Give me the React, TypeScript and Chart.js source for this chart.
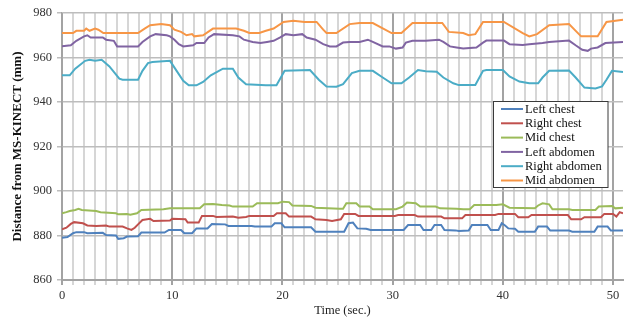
import React, { useEffect, useRef } from 'react';
import { Chart, registerables } from 'chart.js';

Chart.register(...registerables);

// [time (s), distance (mm)] breakpoints
const leftChest: [number, number][] = [
  [0, 879], [0.5, 879.3], [1.0, 881], [1.3, 881.5], [2.0, 881.5], [2.3, 881], [3.7, 881.2], [4.0, 880.2],
  [4.9, 880], [5.1, 878.5], [5.6, 878.8], [5.9, 879.5], [6.9, 879.7], [7.2, 881.3], [9.3, 881.3], [9.7, 882.5],
  [10.8, 882.5], [11.1, 881], [11.8, 881], [12.2, 883.2], [13.2, 883.2], [13.6, 885.2], [14.8, 885], [15.1, 884.3],
  [17.2, 884.3], [17.5, 884], [19.0, 884], [19.3, 885.5], [19.9, 885.5], [20.2, 883.7], [22.6, 883.7], [23.0, 881.7],
  [25.6, 881.7], [26.0, 885.5], [26.4, 885.8], [26.8, 883.2], [27.6, 883], [28.0, 882.5], [31.0, 882.5], [31.4, 884.7],
  [32.5, 884.7], [32.8, 882.5], [33.5, 882.5], [33.8, 884.7], [34.4, 884.7], [34.7, 882.5], [35.7, 882.3], [36.0, 882],
  [36.9, 882.2], [37.2, 884.7], [38.6, 884.7], [38.9, 882.5], [39.6, 882.5], [39.9, 885.5], [40.2, 884.5], [40.5, 883.2],
  [41.1, 883], [41.4, 881.7], [42.9, 881.7], [43.2, 884], [44.0, 884], [44.3, 882.2], [46.0, 882.2], [46.3, 881.7],
  [48.3, 881.7], [48.6, 884], [49.5, 884], [49.8, 882.2], [50.9, 882.2],
];

const rightChest: [number, number][] = [
  [0, 882.8], [0.4, 883.5], [0.8, 885.2], [1.1, 886], [1.9, 885.5], [2.3, 884.5], [3.1, 884.3], [4.0, 884.5],
  [4.3, 884], [5.5, 884], [5.9, 883.2], [6.3, 882.5], [6.6, 883.5], [6.9, 885], [7.3, 887], [8.0, 887.5],
  [8.3, 886.5], [9.8, 886.7], [10.0, 887.5], [11.2, 887.3], [11.4, 885.8], [12.4, 885.8], [12.7, 888.8], [13.7, 888.8],
  [14.0, 888.3], [15.5, 888.5], [16.0, 888], [16.7, 888.3], [17.0, 888.8], [19.2, 888.8], [19.5, 890], [20.3, 890],
  [20.6, 888.5], [22.6, 888.5], [23.0, 887.3], [24.0, 887], [24.5, 886.5], [25.3, 887.3], [25.6, 889.7], [26.6, 889.7],
  [26.9, 888.8], [30.2, 888.8], [30.5, 889.2], [32.0, 889.2], [32.3, 888.5], [34.4, 888.5], [34.7, 887.7], [36.3, 887.7],
  [36.6, 889.2], [39.3, 889.2], [39.6, 889.7], [41.1, 889.7], [41.4, 888.2], [42.3, 888.2], [42.6, 889.2], [45.9, 889.2],
  [46.2, 887.3], [47.1, 887.3], [47.4, 888.2], [48.9, 888.2], [49.2, 889.7], [50.0, 889.7], [50.3, 888.5], [50.6, 890.5],
  [50.9, 890],
];

const midChest: [number, number][] = [
  [0, 890], [0.4, 890.5], [0.7, 891], [1.2, 891.5], [1.5, 892], [1.8, 891.5], [3.1, 891], [3.5, 890.5],
  [4.9, 890], [5.1, 889.5], [5.9, 889.7], [6.2, 889.3], [6.8, 890], [7.2, 891.5], [9.2, 891.8], [9.8, 892.2],
  [12.5, 892.2], [12.9, 894], [13.7, 894.2], [14.5, 893.7], [15.2, 893.5], [15.5, 893], [17.3, 893], [17.7, 894.5],
  [19.6, 894.5], [20.0, 895.2], [20.6, 895], [20.9, 893.5], [22.6, 893.3], [23.0, 892.5], [25.2, 892], [25.5, 892],
  [25.8, 894.5], [26.7, 894.5], [27.0, 893], [27.9, 893], [28.2, 891.8], [30.3, 891.8], [30.9, 893], [31.3, 894.8],
  [32.1, 894.5], [32.5, 893], [33.9, 893], [34.3, 892.2], [35.8, 892], [36.4, 891.8], [37.0, 891.8], [37.4, 893.7],
  [39.4, 893.7], [40.0, 894], [40.6, 892.5], [42.9, 892.2], [43.2, 893.5], [43.6, 894.5], [44.2, 894], [44.5, 891.8],
  [46.0, 891.8], [46.3, 891.5], [48.4, 891.5], [48.7, 893], [49.9, 893.3], [50.2, 892.2], [50.9, 892.5],
];

const leftAbdomen: [number, number][] = [
  [0, 965], [0.8, 965.5], [1.3, 967.5], [2.0, 969.5], [2.3, 970], [2.6, 969], [3.7, 969], [4.0, 968],
  [4.7, 967.5], [5.0, 965], [6.9, 965], [7.3, 967], [8.0, 969.5], [8.5, 970.5], [9.5, 970], [9.8, 969.5],
  [10.2, 968], [10.6, 966], [11.0, 965], [11.9, 965.5], [12.2, 966.5], [12.9, 966.5], [13.3, 969], [13.8, 970.5],
  [15.5, 970], [16.1, 969.5], [16.5, 968], [17.3, 967], [18.0, 966.5], [18.6, 967], [19.2, 967.5], [19.8, 969],
  [20.3, 970.5], [21.0, 970], [21.8, 970.5], [22.2, 969], [23.0, 968], [23.7, 966], [24.3, 965], [24.9, 965],
  [25.5, 966.7], [26.1, 967], [27.0, 967], [27.75, 968], [28.2, 967], [29.1, 965], [29.7, 965], [30.3, 964],
  [30.9, 964.5], [31.2, 966.7], [31.8, 967.5], [33.0, 967.5], [34.2, 968], [34.6, 967], [35.2, 965], [35.8, 964.5],
  [36.4, 964], [37.6, 964.5], [38.2, 966.7], [38.5, 967.6], [40.1, 967.6], [40.6, 966], [41.8, 965.6], [42.4, 966],
  [43.6, 966.5], [44.2, 967], [46.0, 967.6], [46.6, 965.5], [47.2, 963.5], [47.7, 963], [48.0, 964], [48.6, 964.5],
  [49.3, 966.5], [50.9, 967],
];

const rightAbdomen: [number, number][] = [
  [0, 952], [0.7, 952], [1.2, 955], [2.1, 958.5], [2.5, 959], [3.0, 958.5], [3.6, 959], [4.3, 956],
  [5.2, 950.5], [5.5, 950], [6.9, 950], [7.3, 954], [7.8, 957.5], [8.2, 958], [9.8, 958.5], [10.4, 954],
  [11.0, 949.5], [11.5, 947.5], [12.2, 947.5], [12.8, 949], [13.5, 952], [14.6, 955], [15.5, 955], [16.0, 951],
  [16.7, 948], [18.5, 947.5], [19.46, 947.5], [20.2, 954], [22.5, 954.4], [23.3, 950], [24.0, 947], [24.9, 946.9],
  [25.5, 948], [26.3, 953], [27.0, 954], [28.2, 954], [29.1, 951], [29.9, 948.4], [30.8, 948.4], [31.5, 951],
  [32.3, 954.4], [33.0, 953.8], [34.0, 953.6], [34.6, 951], [35.5, 948.4], [36.0, 947.6], [37.5, 947.6], [38.2, 954],
  [38.5, 954.4], [40.0, 954.4], [40.6, 951.5], [41.5, 949.2], [42.4, 948.4], [43.2, 948.4], [43.6, 951], [44.2, 954],
  [46.0, 954.1], [46.6, 951], [47.4, 946.5], [48.4, 946.1], [49.0, 947], [49.4, 950], [49.9, 954], [50.9, 953.5],
];

const midAbdomen: [number, number][] = [
  [0, 971], [1.0, 971], [1.3, 972], [2.0, 972], [2.2, 973], [2.5, 972], [3.0, 973], [3.3, 972.5],
  [3.75, 971], [6.9, 971], [7.5, 973], [8.0, 974.5], [9.0, 975], [9.8, 974.5], [10.2, 972.5], [10.8, 971.5],
  [11.3, 970], [11.8, 970.5], [12.0, 969.5], [12.8, 970], [13.7, 973], [15.8, 973], [16.5, 972], [17.0, 971],
  [17.9, 971], [18.5, 972], [19.2, 973], [20.1, 976], [21.0, 976.5], [22.0, 976], [23.1, 976], [23.7, 972.5],
  [24.0, 971], [24.9, 971], [26.1, 975], [27.0, 975.5], [28.2, 975.5], [29.9, 971], [30.8, 971], [31.8, 975.5],
  [34.5, 975.5], [35.1, 971.5], [36.4, 971], [36.9, 970], [37.5, 970.5], [38.2, 976], [40.1, 976], [41.8, 971],
  [42.4, 969.5], [43.1, 970.5], [44.2, 974.5], [46.0, 975], [47.1, 969.5], [48.6, 969.5], [49.4, 976], [50.9, 977],
];

const seriesNames = ['Left chest', 'Right chest', 'Mid chest', 'Left abdomen', 'Right abdomen', 'Mid abdomen'];
const seriesColors = ['#4F81BD', '#C0504D', '#9BBB59', '#8064A2', '#4BACC6', '#F79646'];
const seriesData = [leftChest, rightChest, midChest, leftAbdomen, rightAbdomen, midAbdomen];

const xMin = 0;
const xMax = 50.9;
const yMin = 860;
const yMax = 980;
const yStep = 20;
const xTitle = 'Time (sec.)';
const yTitle = 'Distance from MS-KINECT (mm)';

const FONT = "'Liberation Serif', 'Times New Roman', serif";

const boxLegend = {
  id: 'boxLegend',
  afterDraw(chart: any) {
    const ctx = chart.ctx;
    const left = 493.5;
    const top = 101.5;
    const w = 114.5;
    const h = 86;
    ctx.save();
    ctx.fillStyle = '#ffffff';
    ctx.fillRect(left, top, w, h);
    ctx.strokeStyle = '#3a3a3a';
    ctx.lineWidth = 1;
    ctx.strokeRect(left, top, w, h);
    ctx.font = `12.5px ${FONT}`;
    ctx.textBaseline = 'middle';
    ctx.textAlign = 'left';
    chart.data.datasets.forEach((ds: any, i: number) => {
      const y = 109 + i * 14.3;
      ctx.strokeStyle = ds.borderColor;
      ctx.lineWidth = 2;
      ctx.beginPath();
      ctx.moveTo(501, y);
      ctx.lineTo(523, y);
      ctx.stroke();
      ctx.fillStyle = '#111';
      ctx.fillText(ds.label, 525, y + 0.5);
    });
    ctx.restore();
  },
};

export default function App() {
  const ref = useRef<HTMLCanvasElement | null>(null);

  useEffect(() => {
    if (!ref.current) return;
    const chart = new Chart(ref.current, {
      type: 'line',
      data: {
        datasets: seriesData.map((d, i) => ({
          label: seriesNames[i],
          data: d.map(([x, y]) => ({ x, y })),
          borderColor: seriesColors[i],
          backgroundColor: seriesColors[i],
          borderWidth: 2,
          pointRadius: 0,
          tension: 0,
          fill: false,
        })),
      },
      options: {
        animation: false,
        responsive: false,
        maintainAspectRatio: false,
        layout: { padding: { top: 13, right: 1, left: 0, bottom: 0 } },
        plugins: {
          legend: { display: false },
          tooltip: { enabled: false },
        },
        scales: {
          x: {
            type: 'linear',
            min: xMin,
            max: xMax,
            afterFit: (s: any) => { s.height = 42; },
            ticks: {
              stepSize: 1,
              autoSkip: false,
              maxRotation: 0,
              includeBounds: false,
              padding: 3,
              color: '#333',
              font: { family: FONT, size: 12.5 },
              callback: (v: any) => (Math.round(v) % 10 === 0 ? String(Math.round(v)) : ''),
            },
            grid: {
              color: (c: any) => (c.tick && Math.round(c.tick.value) % 10 === 0 ? '#a3a3a3' : '#d6d6d6'),
              lineWidth: 2,
              tickLength: 5,
            },
            border: { color: '#a3a3a3', width: 2 },
            title: {
              display: true,
              text: xTitle,
              color: '#222',
              font: { family: FONT, size: 12.5 },
              padding: { top: 4, bottom: 4 },
            },
          },
          y: {
            type: 'linear',
            min: yMin,
            max: yMax,
            afterFit: (s: any) => { s.width = 62; },
            ticks: {
              stepSize: yStep,
              padding: 5,
              color: '#333',
              font: { family: FONT, size: 12.5 },
            },
            grid: {
              color: '#bdbdbd',
              lineWidth: 1.5,
              tickLength: 5,
            },
            border: { color: '#a3a3a3', width: 1.5 },
            title: {
              display: true,
              text: yTitle,
              color: '#111',
              font: { family: FONT, size: 13, weight: 'bold' },
              padding: { top: 10, bottom: 10 },
            },
          },
        },
      },
      plugins: [boxLegend],
    } as any);
    return () => chart.destroy();
  }, []);

  return (
    <div style={{ position: 'absolute', left: 0, top: 0, width: 624, height: 322, background: '#fff' }}>
      <canvas ref={ref} width={624} height={322} style={{ display: 'block', width: 624, height: 322 }} />
    </div>
  );
}
